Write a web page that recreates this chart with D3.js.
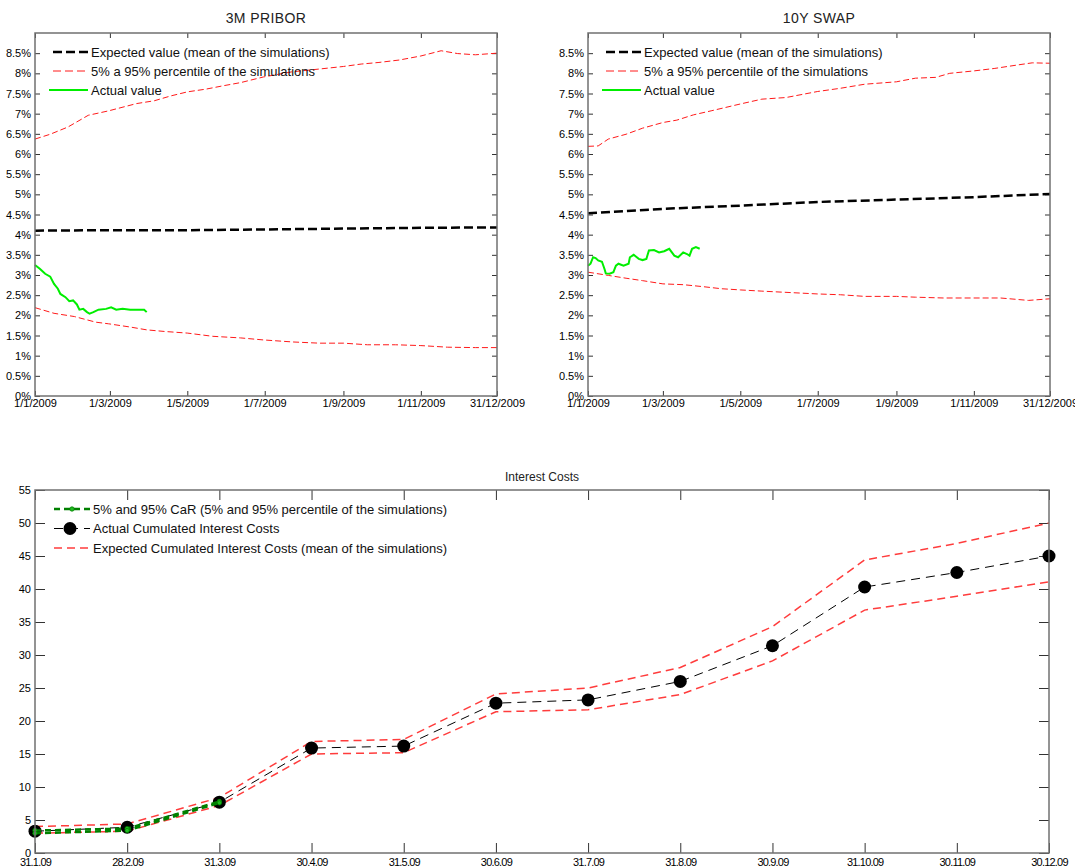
<!DOCTYPE html>
<html>
<head>
<meta charset="utf-8">
<script src="https://cdn.jsdelivr.net/npm/d3@7"></script>
<style>
  body { margin: 0; background: #fff; }
  svg { display: block; font-family: "Liberation Sans", Arial, sans-serif; }
  .tick text { fill: #000; }
</style>
</head>
<body>
<div id="chart"></div>
<script>

// ---- 3M PRIBOR (values in %) ----
var priborUpper = [
  ["2009-01-01", 6.37], ["2009-01-13", 6.49], ["2009-01-27", 6.67], ["2009-02-12", 6.96],
  ["2009-02-28", 7.07], ["2009-03-22", 7.25], ["2009-04-05", 7.32], ["2009-04-18", 7.44],
  ["2009-05-01", 7.54], ["2009-05-16", 7.61], ["2009-05-29", 7.69], ["2009-06-12", 7.77],
  ["2009-06-30", 7.91], ["2009-07-23", 8.04], ["2009-08-05", 8.08], ["2009-09-01", 8.17],
  ["2009-09-15", 8.23], ["2009-09-29", 8.27], ["2009-10-15", 8.33], ["2009-11-01", 8.43],
  ["2009-11-17", 8.56], ["2009-11-30", 8.49], ["2009-12-14", 8.46], ["2009-12-31", 8.50]
];
var priborLower = [
  ["2009-01-01", 2.19], ["2009-01-16", 2.05], ["2009-02-01", 1.97], ["2009-02-18", 1.83],
  ["2009-02-28", 1.79], ["2009-03-17", 1.71], ["2009-03-30", 1.64], ["2009-04-13", 1.60],
  ["2009-05-01", 1.56], ["2009-05-21", 1.48], ["2009-06-12", 1.44], ["2009-06-30", 1.39],
  ["2009-07-23", 1.34], ["2009-08-13", 1.31], ["2009-09-01", 1.31], ["2009-09-20", 1.27],
  ["2009-10-12", 1.27], ["2009-11-01", 1.25], ["2009-11-22", 1.21], ["2009-12-14", 1.20],
  ["2009-12-31", 1.20]
];
var priborMean = [
  ["2009-01-01", 4.10], ["2009-03-01", 4.11], ["2009-05-01", 4.11], ["2009-07-01", 4.13],
  ["2009-09-01", 4.15], ["2009-11-01", 4.17], ["2009-12-31", 4.18]
];
var priborActual = [
  ["2009-01-01", 3.25], ["2009-01-05", 3.15], ["2009-01-09", 3.03], ["2009-01-13", 2.96],
  ["2009-01-16", 2.78], ["2009-01-19", 2.66], ["2009-01-21", 2.53], ["2009-01-25", 2.45],
  ["2009-01-28", 2.35], ["2009-01-31", 2.37], ["2009-02-03", 2.27], ["2009-02-05", 2.14],
  ["2009-02-08", 2.16], ["2009-02-11", 2.08], ["2009-02-13", 2.04], ["2009-02-16", 2.08],
  ["2009-02-20", 2.14], ["2009-02-26", 2.16], ["2009-03-02", 2.20], ["2009-03-06", 2.14],
  ["2009-03-11", 2.16], ["2009-03-17", 2.14], ["2009-03-22", 2.14], ["2009-03-28", 2.14],
  ["2009-03-30", 2.08]
];

// ---- 10Y SWAP (values in %) ----
var swapUpper = [
  ["2009-01-01", 6.19], ["2009-01-09", 6.20], ["2009-01-17", 6.37], ["2009-01-31", 6.49],
  ["2009-02-13", 6.64], ["2009-03-01", 6.78], ["2009-03-12", 6.84], ["2009-03-25", 6.97],
  ["2009-04-08", 7.07], ["2009-05-01", 7.24], ["2009-05-18", 7.36], ["2009-06-06", 7.40],
  ["2009-07-01", 7.55], ["2009-07-19", 7.63], ["2009-08-07", 7.73], ["2009-09-01", 7.79],
  ["2009-09-16", 7.88], ["2009-10-02", 7.90], ["2009-10-13", 8.00], ["2009-11-01", 8.06],
  ["2009-11-17", 8.12], ["2009-12-06", 8.21], ["2009-12-17", 8.26], ["2009-12-31", 8.25]
];
var swapLower = [
  ["2009-01-01", 3.07], ["2009-01-17", 2.99], ["2009-01-31", 2.92], ["2009-02-13", 2.86],
  ["2009-03-01", 2.78], ["2009-03-17", 2.76], ["2009-04-02", 2.71], ["2009-04-16", 2.66],
  ["2009-05-01", 2.63], ["2009-05-18", 2.60], ["2009-06-06", 2.57], ["2009-07-01", 2.53],
  ["2009-07-19", 2.51], ["2009-08-07", 2.47], ["2009-09-01", 2.47], ["2009-09-16", 2.45],
  ["2009-10-08", 2.43], ["2009-11-01", 2.43], ["2009-11-22", 2.43], ["2009-12-14", 2.37],
  ["2009-12-31", 2.41]
];
var swapMean = [
  ["2009-01-01", 4.53], ["2009-03-01", 4.64], ["2009-05-01", 4.72], ["2009-07-01", 4.81],
  ["2009-09-01", 4.87], ["2009-11-01", 4.93], ["2009-12-31", 5.01]
];
var swapActual = [
  ["2009-01-01", 3.23], ["2009-01-03", 3.28], ["2009-01-05", 3.44], ["2009-01-07", 3.42],
  ["2009-01-09", 3.36], ["2009-01-12", 3.33], ["2009-01-14", 3.15], ["2009-01-15", 3.04],
  ["2009-01-18", 3.03], ["2009-01-21", 3.07], ["2009-01-23", 3.23], ["2009-01-25", 3.28],
  ["2009-01-29", 3.23], ["2009-02-02", 3.28], ["2009-02-03", 3.44], ["2009-02-06", 3.50],
  ["2009-02-10", 3.40], ["2009-02-13", 3.37], ["2009-02-16", 3.40], ["2009-02-18", 3.61],
  ["2009-02-22", 3.62], ["2009-02-26", 3.56], ["2009-03-02", 3.59], ["2009-03-06", 3.65],
  ["2009-03-10", 3.48], ["2009-03-13", 3.44], ["2009-03-17", 3.56], ["2009-03-20", 3.52],
  ["2009-03-22", 3.48], ["2009-03-24", 3.65], ["2009-03-27", 3.69], ["2009-03-30", 3.65]
];

var rateTickDates = ["2009-01-01", "2009-03-01", "2009-05-01", "2009-07-01", "2009-09-01", "2009-11-01", "2009-12-31"];
var rateTickLabels = ["1/1/2009", "1/3/2009", "1/5/2009", "1/7/2009", "1/9/2009", "1/11/2009", "31/12/2009"];
var rateLegend = ["Expected value (mean of the simulations)", "5% a 95% percentile of the simulations", "Actual value"];

// ---- Interest costs ----
var months = ["31.1.09", "28.2.09", "31.3.09", "30.4.09", "31.5.09", "30.6.09",
              "31.7.09", "31.8.09", "30.9.09", "31.10.09", "30.11.09", "30.12.09"];
var costActual = [3.3, 3.9, 7.7, 15.9, 16.2, 22.7, 23.2, 26.0, 31.4, 40.3, 42.5, 45.0];
var costUpper  = [4.0, 4.4, 8.4, 16.9, 17.2, 24.1, 25.0, 28.1, 34.3, 44.4, 46.9, 50.0];
var costLower  = [3.0, 3.3, 7.2, 15.0, 15.2, 21.4, 21.7, 24.0, 29.1, 36.8, 38.9, 41.1];
var carUpper   = [3.4, 3.7, 7.8];
var carLower   = [3.0, 3.4, 7.6];
var costLegend = ["5% and 95% CaR (5% and 95% percentile of the simulations)",
                  "Actual Cumulated Interest Costs",
                  "Expected Cumulated Interest Costs (mean of the simulations)"];

var parseDate = d3.timeParse("%Y-%m-%d");
var frameColor = "#707070";

var svg = d3.select("#chart").append("svg")
    .attr("width", 1075)
    .attr("height", 867);

svg.append("rect").attr("width", 1075).attr("height", 867).attr("fill", "#fff");

function toPts(arr) {
  return arr.map(d => ({date: parseDate(d[0]), value: d[1]}));
}

function rateChart(left, title, upper, lower, mean, actual) {
  var width = 462, height = 363, top = 33;
  var g = svg.append("g").attr("transform", "translate(" + left + "," + top + ")");

  var x = d3.scaleTime()
      .domain([parseDate("2009-01-01"), parseDate("2009-12-31")])
      .range([0, width]);
  var y = d3.scaleLinear().domain([0, 9]).range([height, 0]);

  var line = d3.line().x(d => x(d.date)).y(d => y(d.value));

  // title
  svg.append("text")
    .attr("x", left + width / 2)
    .attr("y", 23)
    .attr("text-anchor", "middle")
    .style("font-size", "14px")
    .style("letter-spacing", "0.4px")
    .attr("fill", "#222")
    .text(title);

  var yTicks = d3.range(0, 8.51, 0.5);
  var xTicks = rateTickDates.map(parseDate);

  var yAxis = g.append("g")
    .call(d3.axisLeft(y).tickValues(yTicks).tickSizeInner(-5).tickSizeOuter(0).tickPadding(4)
      .tickFormat(d => d3.format("")(d) + "%"));
  yAxis.select(".domain").remove();

  var yAxisR = g.append("g").attr("transform", "translate(" + width + ",0)")
    .call(d3.axisRight(y).tickValues(yTicks).tickSizeInner(-5).tickSizeOuter(0).tickFormat(""));
  yAxisR.select(".domain").remove();

  var xAxis = g.append("g").attr("transform", "translate(0," + height + ")")
    .call(d3.axisBottom(x).tickValues(xTicks).tickSizeInner(-5).tickSizeOuter(0).tickPadding(3)
      .tickFormat((d, i) => rateTickLabels[i]));
  xAxis.select(".domain").remove();

  var xAxisT = g.append("g")
    .call(d3.axisTop(x).tickValues(xTicks).tickSizeInner(-5).tickSizeOuter(0).tickFormat(""));
  xAxisT.select(".domain").remove();

  g.selectAll(".tick line").attr("stroke", "#333");
  g.selectAll(".tick text").style("font-size", "11px").attr("font-family", null);

  // series
  [upper, lower].forEach(s => {
    g.append("path")
      .datum(toPts(s))
      .attr("d", line)
      .attr("fill", "none")
      .attr("stroke", "#ff1a1a")
      .attr("stroke-width", 1)
      .attr("stroke-dasharray", "6,3");
  });

  g.append("path")
    .datum(toPts(mean))
    .attr("d", line)
    .attr("fill", "none")
    .attr("stroke", "#000")
    .attr("stroke-width", 2.5)
    .attr("stroke-dasharray", "9,4");

  g.append("path")
    .datum(toPts(actual))
    .attr("d", line)
    .attr("fill", "none")
    .attr("stroke", "#00ee00")
    .attr("stroke-width", 2);

  // frame
  g.append("rect")
    .attr("width", width).attr("height", height)
    .attr("fill", "none")
    .attr("stroke", frameColor)
    .attr("stroke-width", 1.5);

  // legend
  var leg = g.append("g");
  var rows = [
    {label: rateLegend[0], stroke: "#000", w: 2.5, dash: "9,4", x0: 18},
    {label: rateLegend[1], stroke: "#ff1a1a", w: 1, dash: "8,4", x0: 18},
    {label: rateLegend[2], stroke: "#00ee00", w: 2, dash: null, x0: 14}
  ];
  rows.forEach((r, i) => {
    var yy = 19 + i * 19;
    leg.append("line")
      .attr("x1", r.x0).attr("x2", 53)
      .attr("y1", yy).attr("y2", yy)
      .attr("stroke", r.stroke)
      .attr("stroke-width", r.w)
      .attr("stroke-dasharray", r.dash);
    leg.append("text")
      .attr("x", 56).attr("y", yy + 4.5)
      .style("font-size", "13px")
      .attr("fill", "#111")
      .text(r.label);
  });
}

rateChart(35, "3M PRIBOR", priborUpper, priborLower, priborMean, priborActual);
rateChart(588, "10Y SWAP", swapUpper, swapLower, swapMean, swapActual);

// ---- bottom chart ----
(function costChart() {
  var left = 35, top = 490, width = 1014, height = 363;
  var g = svg.append("g").attr("transform", "translate(" + left + "," + top + ")");

  var x = d3.scalePoint().domain(months).range([0, width]).padding(0);
  var y = d3.scaleLinear().domain([0, 55]).range([height, 0]);

  svg.append("text")
    .attr("x", left + width / 2)
    .attr("y", 481)
    .attr("text-anchor", "middle")
    .style("font-size", "12px")
    .attr("fill", "#222")
    .text("Interest Costs");

  var yTicks = d3.range(0, 56, 5);

  var yAxis = g.append("g")
    .call(d3.axisLeft(y).tickValues(yTicks).tickSizeInner(-10).tickSizeOuter(0).tickPadding(4));
  yAxis.select(".domain").remove();
  var yAxisR = g.append("g").attr("transform", "translate(" + width + ",0)")
    .call(d3.axisRight(y).tickValues(yTicks).tickSizeInner(-10).tickSizeOuter(0).tickFormat(""));
  yAxisR.select(".domain").remove();
  var xAxis = g.append("g").attr("transform", "translate(0," + height + ")")
    .call(d3.axisBottom(x).tickSizeInner(-10).tickSizeOuter(0).tickPadding(5));
  xAxis.select(".domain").remove();
  var xAxisT = g.append("g")
    .call(d3.axisTop(x).tickSizeInner(-10).tickSizeOuter(0).tickFormat(""));
  xAxisT.select(".domain").remove();

  g.selectAll(".tick line").attr("stroke", "#333");
  yAxis.selectAll(".tick text").style("font-size", "11px").attr("font-family", null);
  xAxis.selectAll(".tick text").style("font-size", "11px").style("letter-spacing", "-0.8px").attr("font-family", null);

  var line = d3.line().x((d, i) => x(months[i])).y(d => y(d));

  [costUpper, costLower].forEach(s => {
    g.append("path")
      .datum(s)
      .attr("d", line)
      .attr("fill", "none")
      .attr("stroke", "#ff3c3c")
      .attr("stroke-width", 1.5)
      .attr("stroke-dasharray", "8,5");
  });

  g.append("path")
    .datum(costActual)
    .attr("d", line)
    .attr("fill", "none")
    .attr("stroke", "#000")
    .attr("stroke-width", 1)
    .attr("stroke-dasharray", "9,6");

  g.selectAll(".dot")
    .data(costActual)
    .enter()
    .append("circle")
    .attr("cx", (d, i) => x(months[i]))
    .attr("cy", d => y(d))
    .attr("r", 6.5)
    .attr("fill", "#000");

  [carUpper, carLower].forEach(s => {
    g.append("path")
      .datum(s)
      .attr("d", line)
      .attr("fill", "none")
      .attr("stroke", "#008000")
      .attr("stroke-width", 2.5)
      .attr("stroke-dasharray", "6,4");
    g.selectAll(null)
      .data(s)
      .enter()
      .append("circle")
      .attr("cx", (d, i) => x(months[i]))
      .attr("cy", d => y(d))
      .attr("r", 2.2)
      .attr("fill", "#22bb22")
      .attr("stroke", "#008000")
      .attr("stroke-width", 0.8);
  });

  g.append("rect")
    .attr("width", width).attr("height", height)
    .attr("fill", "none")
    .attr("stroke", frameColor)
    .attr("stroke-width", 1.5);

  // legend
  var leg = g.append("g");
  var rows = [
    {stroke: "#008000", w: 2.5, dash: "6,4", marker: "small"},
    {stroke: "#000", w: 1, dash: "9,6", marker: "big"},
    {stroke: "#ff3c3c", w: 1.5, dash: "8,5", marker: null}
  ];
  rows.forEach((r, i) => {
    var yy = 19 + i * 19.5;
    leg.append("line")
      .attr("x1", 19).attr("x2", 55)
      .attr("y1", yy).attr("y2", yy)
      .attr("stroke", r.stroke)
      .attr("stroke-width", r.w)
      .attr("stroke-dasharray", r.dash);
    if (r.marker == "small") {
      leg.append("circle").attr("cx", 37).attr("cy", yy).attr("r", 2.2)
        .attr("fill", "#22bb22").attr("stroke", "#008000").attr("stroke-width", 0.8);
    } else if (r.marker == "big") {
      leg.append("circle").attr("cx", 35).attr("cy", yy).attr("r", 6.5).attr("fill", "#000");
    }
    leg.append("text")
      .attr("x", 58).attr("y", yy + 4.5)
      .style("font-size", "13px")
      .attr("fill", "#111")
      .text(costLegend[i]);
  });
})();

</script>
</body>
</html>
